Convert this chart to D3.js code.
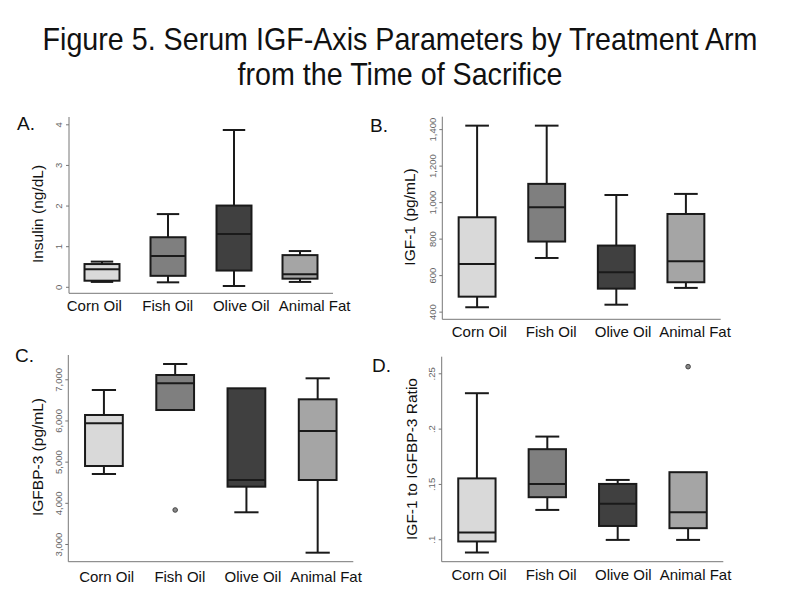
<!DOCTYPE html>
<html><head><meta charset="utf-8">
<script src="https://cdn.jsdelivr.net/npm/d3@7"></script>
<style>body{margin:0;background:#fff}svg{display:block}text{font-family:"Liberation Sans",Arial,sans-serif}</style>
</head><body><svg id="c" width="800" height="600"></svg>
<script>
const categories = ["Corn Oil","Fish Oil","Olive Oil","Animal Fat"];
const fills = ["#d9d9d9","#7f7f7f","#404040","#a5a5a5"];
// [whisker low, Q1, median, Q3, whisker high]
const insulinStats = [[0.12,0.15,0.43,0.56,0.62],[0.11,0.27,0.76,1.22,1.79],[0.02,0.40,1.30,2.00,3.86],[0.12,0.20,0.31,0.78,0.88]];
const igf1Stats = [[424,482,661,917,1419],[694,784,972,1100,1419],[438,526,616,762,1039],[530,561,676,935,1045]];
const igfbp3Stats = [[4700,4894,5931,6133,6740],[6254,6254,6902,7104,7371],[3770,4392,4554,6781,6781],[2789,4554,5744,6514,7024]];
const ratioStats = [[0.088,0.098,0.106,0.155,0.232],[0.1265,0.138,0.150,0.1814,0.1928],[0.0994,0.112,0.132,0.150,0.1536],[0.0994,0.110,0.1244,0.1606,0.1606]];
const igfbp3Outliers = [{cat:"Fish Oil", v:3826}];
const ratioOutliers = [{cat:"Animal Fat", v:0.256}];
const insulinTicks = [0,1,2,3,4];
const igf1Ticks = [400,600,800,1000,1200,1400];
const igfbp3Ticks = [3000,4000,5000,6000,7000];
const ratioTicks = [0.1,0.15,0.2,0.25];
const titleLines = ["Figure 5. Serum IGF-Axis Parameters by Treatment Arm","from the Time of Sacrifice"];

const svg = d3.select("#c");
svg.selectAll("text.title").data(titleLines).join("text").attr("class","title")
  .attr("transform",(d,i)=>`translate(400,${50+i*35}) scale(0.94,1)`).attr("text-anchor","middle")
  .attr("font-size",30.5).attr("fill","#111").text(d=>d);

const fmtComma = d3.format(",");
const fmtRatio = d => d3.format("")(d).replace(/^0/,"");

const panels = [
  {letter:"A.", lx:17, ly:130, stats:insulinStats, outliers:[], ticks:insulinTicks, fmt:d3.format("d"), title:"Insulin (ng/dL)", tx:38, ty:214,
   x0:69, x1:333, yTop:117, yBot:293.3, domain:[-0.16,4.18], lab:[94.3,314.7], labY:306},
  {letter:"B.", lx:370, ly:132, stats:igf1Stats, outliers:[], ticks:igf1Ticks, fmt:fmtComma, title:"IGF-1 (pg/mL)", tx:410, ty:217,
   x0:442.3, x1:720.7, yTop:116.7, yBot:319.3, domain:[358,1468], lab:[479.3,695], labY:332},
  {letter:"C.", lx:15, ly:362, stats:igfbp3Stats, outliers:igfbp3Outliers, ticks:igfbp3Ticks, fmt:fmtComma, title:"IGFBP-3 (pg/mL)", tx:38, ty:457,
   x0:68.3, x1:353.3, yTop:355, yBot:561.7, domain:[2570,7590], lab:[106.7,326], labY:576.5},
  {letter:"D.", lx:372, ly:372, stats:ratioStats, outliers:ratioOutliers, ticks:ratioTicks, fmt:fmtRatio, title:"IGF-1 to IGFBP-3 Ratio", tx:411.7, ty:459,
   x0:441.7, x1:723.3, yTop:356.7, yBot:561.7, domain:[0.0797,0.265], lab:[479,695.5], labY:575}
];

panels.forEach(p => {
  const g = svg.append("g");
  const x = d3.scalePoint().domain(categories).range([p.x0,p.x1]).padding(0.5);
  const xl = d3.scalePoint().domain(categories).range(p.lab);
  const y = d3.scaleLinear().domain(p.domain).range([p.yBot,p.yTop]);
  const step = x.step(), bw = step*0.53, cw = step*0.34;

  g.append("text").attr("x",p.lx).attr("y",p.ly).attr("font-size",19).attr("fill","#111").text(p.letter);

  const ya = g.append("g").attr("transform",`translate(${p.x0},0)`)
    .call(d3.axisLeft(y).tickValues(p.ticks).tickFormat(p.fmt).tickSize(3).tickPadding(0));
  ya.select(".domain").remove();
  ya.selectAll(".tick line").attr("stroke","#777");
  ya.selectAll(".tick text").attr("fill","#666").attr("font-size",9.5)
    .attr("text-anchor","middle")
    .attr("transform","translate(-10,0) rotate(-90)").attr("x",0).attr("dy","0.35em");
  g.append("path").attr("d",`M${p.x0},${p.yTop}V${p.yBot}H${p.x1}`).attr("fill","none").attr("stroke","#777").attr("stroke-width",1);

  g.selectAll("text.xl").data(categories).join("text").attr("class","xl")
    .attr("x",d=>xl(d)).attr("y",p.labY).attr("dy","0.35em").attr("text-anchor","middle")
    .attr("font-size",15).attr("fill","#111").text(d=>d);

  g.append("text").attr("transform",`translate(${p.tx},${p.ty}) rotate(-90)`)
    .attr("text-anchor","middle").attr("dy","0.35em").attr("font-size",15.5).attr("fill","#111").text(p.title);

  const bx = g.selectAll("g.box").data(p.stats.map((s,i)=>({cat:categories[i],s,fill:fills[i]}))).join("g").attr("class","box");
  bx.each(function(d){
    const b = d3.select(this), cx = x(d.cat), [lo,q1,md,q3,hi] = d.s;
    const line = (x1,x2,y1,y2) => b.append("line").attr("x1",x1).attr("x2",x2).attr("y1",y1).attr("y2",y2).attr("stroke","#1a1a1a").attr("stroke-width",2);
    if (hi > q3) { line(cx,cx,y(q3),y(hi)); line(cx-cw/2,cx+cw/2,y(hi),y(hi)); }
    if (lo < q1) { line(cx,cx,y(q1),y(lo)); line(cx-cw/2,cx+cw/2,y(lo),y(lo)); }
    b.append("rect").attr("x",cx-bw/2).attr("width",bw).attr("y",y(q3)).attr("height",y(q1)-y(q3))
      .attr("fill",d.fill).attr("stroke","#1a1a1a").attr("stroke-width",2);
    line(cx-bw/2,cx+bw/2,y(md),y(md));
  });
  g.selectAll("circle.out").data(p.outliers).join("circle").attr("class","out")
    .attr("cx",d=>x(d.cat)).attr("cy",d=>y(d.v)).attr("r",2.3)
    .attr("fill","#888").attr("stroke","#444").attr("stroke-width",1);
});
</script></body></html>
